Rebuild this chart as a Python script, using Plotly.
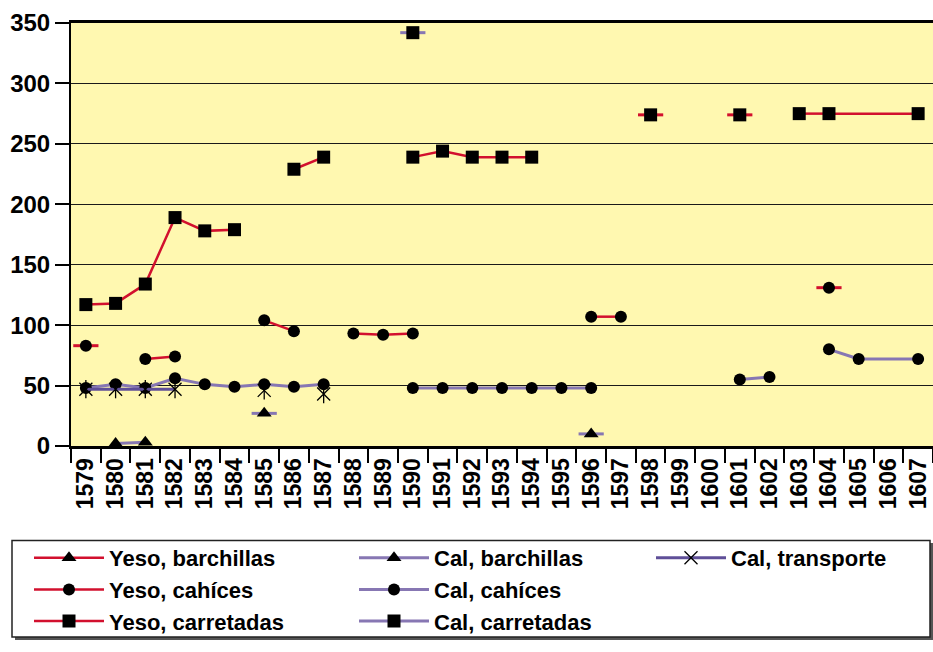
import plotly.graph_objects as go

years = [str(y) for y in range(1579, 1608)]

# values, one per year 1579..1607 (None = no data)
yeso_barchillas = [None] * 29
yeso_cahices = [83, None, 72, 74, None, None, 104, 95, None, 93, 92, 93, None, None, None,
                None, None, 107, 107, None, None, None, None, None, None, 131, None, None, None]
yeso_carretadas = [117, 118, 134, 189, 178, 179, None, 229, 239, None, None, 239, 244, 239, 239,
                   239, None, None, None, 274, None, None, 274, None, 275, 275, None, None, 275]
cal_barchillas = [None, 2, 3, None, None, None, 27, None, None, None, None, None, None, None, None,
                  None, None, 10, None, None, None, None, None, None, None, None, None, None, None]
cal_cahices = [48, 51, 48, 56, 51, 49, 51, 49, 51, None, None, 48, 48, 48, 48,
               48, 48, 48, None, None, None, None, 55, 57, None, 80, 72, None, 72]
cal_carretadas = [None] * 11 + [342] + [None] * 17
cal_transporte = [47, 47, 47, 47, None, None, 46, None, 43, None, None, None, None, None, None,
                  None, None, None, None, None, None, None, None, None, None, None, None, None, None]

RED = "#d2102e"
PURPLE = "#8777b3"
PURPLE_DARK = "#5f4f98"
FONT = "Liberation Sans"

# name, values, line colour, marker, legend, bridged span (line drawn over missing years)
series = [
    ("Yeso, barchillas", yeso_barchillas, RED, "triangle-up", "legend", None),
    ("Yeso, cahíces", yeso_cahices, RED, "circle", "legend", None),
    ("Yeso, carretadas", yeso_carretadas, RED, "square", "legend", ("1604", "1607")),
    ("Cal, barchillas", cal_barchillas, PURPLE, "triangle-up", "legend2", None),
    ("Cal, cahíces", cal_cahices, PURPLE, "circle", "legend2", ("1605", "1607")),
    ("Cal, carretadas", cal_carretadas, PURPLE, "square", "legend2", None),
    ("Cal, transporte", cal_transporte, PURPLE_DARK, "x-thin-open", "legend3", None),
]

fig = go.Figure()

for name, vals, col, sym, leg, bridge in series:
    lw = 2.5 if col == RED else 3
    # short dash behind points that have no neighbours
    iso_x, iso_y = [], []
    for i, v in enumerate(vals):
        if v is None:
            continue
        left = vals[i - 1] if i > 0 else None
        right = vals[i + 1] if i < len(vals) - 1 else None
        if left is None and right is None and "transporte" not in name:
            if bridge and years[i] in bridge:
                continue
            iso_x.append(years[i])
            iso_y.append(v)
    if iso_x:
        fig.add_trace(go.Scatter(x=iso_x, y=iso_y, mode="markers", showlegend=False, hoverinfo="skip",
                                 marker=dict(symbol="line-ew-open", size=18, color=col,
                                             line=dict(color=col, width=3))))
    if bridge:
        a, b = years.index(bridge[0]), years.index(bridge[1])
        fig.add_trace(go.Scatter(x=years[a:b + 1], y=vals[a:b + 1], mode="lines", connectgaps=True,
                                 showlegend=False, hoverinfo="skip", line=dict(color=col, width=lw)))
    if sym == "x-thin-open":
        mk = dict(symbol=sym, size=13, color="black", line=dict(color="black", width=1.3))
    elif sym == "circle":
        mk = dict(symbol=sym, size=12, color="black")
    else:
        mk = dict(symbol=sym, size=13, color="black")
    fig.add_trace(go.Scatter(x=years, y=vals, name=name, mode="lines+markers", legend=leg,
                             line=dict(color=col, width=lw), marker=mk))
    if sym == "x-thin-open":
        # vertical bar of the star marker
        fig.add_trace(go.Scatter(x=years, y=vals, mode="markers", showlegend=False, hoverinfo="skip",
                                 marker=dict(symbol="line-ns-open", size=13, color="black",
                                             line=dict(color="black", width=1.3))))

L, R, T, B = 71, 933, 23, 446


def px_x(p):
    return (p - L) / (R - L)


def px_y(p):
    return (B - p) / (B - T)


leg_style = dict(bgcolor="rgba(0,0,0,0)", borderwidth=0, orientation="v", tracegroupgap=0,
                 xanchor="left", yanchor="top", y=px_y(537), itemwidth=70,
                 font=dict(family=FONT, size=22, color="black", weight="bold"))

fig.update_layout(
    width=933, height=652,
    margin=dict(l=L, r=0, t=T, b=652 - B),
    paper_bgcolor="white",
    plot_bgcolor="#fff8b0",
    font=dict(family=FONT, color="black"),
    legend=dict(x=px_x(29), **leg_style),
    legend2=dict(x=px_x(354), **leg_style),
    legend3=dict(x=px_x(651), **leg_style),
    shapes=[
        dict(type="rect", xref="paper", yref="paper", x0=px_x(15), x1=px_x(934),
             y0=px_y(640), y1=px_y(543), line=dict(width=0), fillcolor="#555555", layer="below"),
        dict(type="rect", xref="paper", yref="paper", x0=px_x(12), x1=px_x(930),
             y0=px_y(637), y1=px_y(540.5), line=dict(color="#222", width=1.5), fillcolor="white",
             layer="below"),
    ],
)

fig.update_xaxes(type="category", categoryorder="array", categoryarray=years, range=[-0.5, 28.5],
                 showline=True, linecolor="black", linewidth=3, mirror=True,
                 ticks="outside", tickson="boundaries", ticklen=14, tickwidth=1.5, tickcolor="black",
                 tickangle=-90, showgrid=False,
                 tickfont=dict(family=FONT, size=23, color="black", weight="bold"))
fig.update_yaxes(range=[0, 350], dtick=50, showgrid=True, gridcolor="#1a1a1a", gridwidth=1.3,
                 zeroline=False, showline=True, linecolor="black", linewidth=2,
                 ticks="outside", ticklen=14, tickwidth=1.5, tickcolor="black",
                 tickfont=dict(family=FONT, size=24, color="black", weight="bold"))

fig.write_html("out.html", config={"displayModeBar": False},
               post_script="document.body.style.margin='0';")
